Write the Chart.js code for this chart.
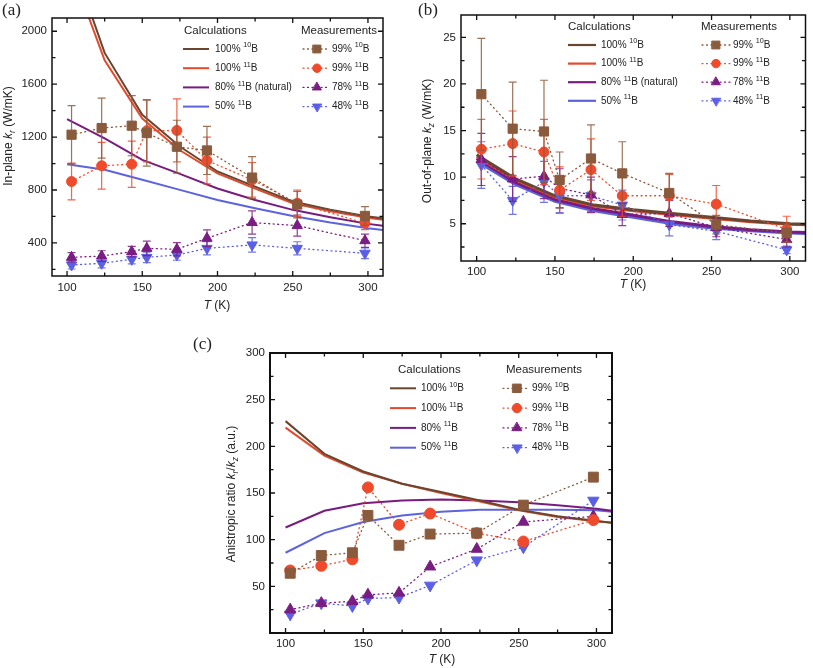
<!DOCTYPE html>
<html>
<head>
<meta charset="utf-8">
<script src="https://cdn.jsdelivr.net/npm/chart.js@4.4.1/dist/chart.umd.min.js"></script>
<style>
    html, body { margin: 0; padding: 0; background: #fff; }
    #wrap { position: relative; width: 813px; height: 668px; overflow: hidden; }
    canvas { position: absolute; }
</style>
</head>
<body>
<div id="wrap">
    <canvas id="cA" width="400" height="318" style="left:0;top:0"></canvas>
    <canvas id="cB" width="413" height="300" style="left:400px;top:0"></canvas>
    <canvas id="cC" width="430" height="338" style="left:190px;top:330px"></canvas>
</div>
<script>
// Temperatures
const measT = [103, 123, 143, 153, 173, 193, 223, 253, 298];
const calcT = [100, 125, 150, 175, 200, 225, 250, 275, 300, 310];
const xTicks = [100, 150, 200, 250, 300];

// (a) In-plane k_r
const aYTicks = [400, 800, 1200, 1600, 2000];
const aMeas99B10 = [1218, 1268, 1286, 1230, 1127, 1099, 894, 690, 604];
const aErr99B10 = [220, 227, 227, 250, 200, 182, 159, 100, 71];
const aMeas99B11 = [864, 983, 995, 1248, 1250, 1023, 877, 700, 550];
const aErr99B11 = [139, 177, 175, 235, 238, 177, 131, 100, 50];
const aMeas78 = [291, 301, 334, 359, 352, 435, 554, 531, 417];
const aErr78 = [35, 40, 40, 55, 50, 63, 88, 80, 50];
const aMeas48 = [233, 246, 276, 291, 309, 359, 385, 359, 322];
const aErr48 = [30, 35, 35, 40, 40, 50, 55, 50, 40];
const aCalc10B = [2650, 1836, 1369, 1129, 940, 826, 713, 650, 600, 587];
const aCalc11B = [2550, 1780, 1340, 1100, 925, 810, 700, 640, 590, 575];
const aCalc80 = [1336, 1190, 1028, 922, 811, 725, 650, 594, 544, 529];
const aCalc50 = [995, 953, 877, 801, 725, 662, 604, 554, 511, 498];

// (b) Out-of-plane k_z
const bYTicks = [5, 10, 15, 20, 25];
const bMeas99B10 = [18.9, 15.2, 14.9, 9.7, 12.0, 10.4, 8.3, 4.9, 4.0];
const bErr99B10 = [6.0, 5.0, 5.5, 3.0, 3.6, 3.4, 2.1, 1.0, 1.0];
const bMeas99B11 = [13.0, 13.6, 12.7, 8.6, 10.8, 8.0, 8.0, 7.1, 4.4];
const bErr99B11 = [3.2, 3.5, 3.5, 2.5, 3.3, 2.2, 2.3, 2.0, 1.4];
const bMeas78 = [11.9, 9.8, 10.1, 8.8, 8.1, 6.0, 6.1, 4.6, 3.3];
const bErr78 = [2.8, 2.4, 2.4, 2.1, 1.9, 1.2, 1.4, 1.0, 0.8];
const bMeas48 = [11.3, 7.5, 9.5, 8.0, 8.0, 7.0, 4.9, 4.2, 2.2];
const bErr48 = [2.5, 1.5, 2.2, 1.8, 1.7, 1.6, 1.2, 0.9, 0.4];
const bCalc10B = [12.4, 9.8, 8.0, 7.0, 6.5, 6.1, 5.7, 5.3, 5.0, 4.95];
const bCalc11B = [12.2, 9.7, 7.9, 6.9, 6.4, 6.0, 5.6, 5.2, 4.95, 4.9];
const bCalc80 = [12.0, 9.4, 7.6, 6.6, 5.9, 5.2, 4.7, 4.35, 4.1, 4.05];
const bCalc50 = [11.7, 9.2, 7.4, 6.4, 5.7, 5.0, 4.55, 4.25, 4.0, 3.95];

// (c) Anisotropic ratio
const cYTicks = [50, 100, 150, 200, 250, 300];
const cMeas99B10 = [64, 83, 86, 126, 94, 106, 107, 137, 167];
const cMeas99B11 = [67, 72, 79, 156, 116, 128, 107, 98, 121];
const cMeas78 = [25, 32, 34, 41, 43, 71, 90, 119, 125];
const cMeas48 = [20, 32, 29, 37, 38, 51, 78, 92, 142];
const cCalc10B = [227, 192, 173, 160, 151, 142, 132, 125, 120, 118];
const cCalc11B = [220, 190, 172, 160, 150, 141, 131.6, 124.4, 119.8, 118];
const cCalc80 = [113, 131, 139, 142, 143, 142, 140, 137, 133, 131];
const cCalc50 = [86, 107, 119, 126, 130, 132, 132, 132, 131.6, 130];

const FONT = '"Liberation Sans", Arial, sans-serif';
const COL = {
    brown: '#8a5a3c', brownLine: '#6a4630',
    red: '#ee4a2b', redLine: '#e4492b',
    purple: '#7a1d82', purpleLine: '#781c80',
    blue: '#5b5fe6', blueLine: '#5d63dd'
};

// Mini markup: ^{..} superscript, _{..} italic subscript, *..* italic
function parseRich(str) {
    const segs = [];
    const re = /\^\{([^}]*)\}|_\{([^}]*)\}|\*([^*]*)\*|([^^_*]+)/g;
    let m;
    while ((m = re.exec(str))) {
        if (m[1] != null) segs.push({ t: m[1], mode: 'sup' });
        else if (m[2] != null) segs.push({ t: m[2], mode: 'sub' });
        else if (m[3] != null) segs.push({ t: m[3], mode: 'it' });
        else segs.push({ t: m[4], mode: '' });
    }
    return segs;
}

function drawRich(ctx, str, x, y, size, align) {
    const segs = parseRich(str);
    const fontFor = s => {
        const small = s.mode === 'sup' || s.mode === 'sub';
        const it = s.mode === 'it' || s.mode === 'sub';
        return (it ? 'italic ' : '') + (small ? size * 0.72 : size) + 'px ' + FONT;
    };
    let w = 0;
    segs.forEach(s => { ctx.font = fontFor(s); s.w = ctx.measureText(s.t).width; w += s.w; });
    let cx = align === 'center' ? x - w / 2 : x;
    ctx.textAlign = 'left';
    ctx.textBaseline = 'middle';
    segs.forEach(s => {
        ctx.font = fontFor(s);
        const dy = s.mode === 'sup' ? -size * 0.35 : s.mode === 'sub' ? size * 0.3 : 0;
        ctx.fillText(s.t, cx, y + dy);
        cx += s.w;
    });
}

function tickList(majors, min, max) {
    const step = majors[1] - majors[0];
    const out = [];
    let v = majors[0] - step * Math.ceil((majors[0] - min) / step);
    for (; v <= max + 1e-9; v += step / 2) {
        if (v <= min + 1e-9 || v >= max - 1e-9) continue;
        const k = (v - majors[0]) / step;
        out.push({ v, major: Math.abs(k - Math.round(k)) < 1e-6 });
    }
    return out;
}

const panelPlugin = {
    id: 'panel',
    // error bars right before each measurement set
    beforeDatasetDraw(chart, args) {
        const ds = chart.data.datasets[args.index];
        if (!ds.errors) return;
        const ctx = chart.ctx, xs = chart.scales.x, ys = chart.scales.y, a = chart.chartArea;
        ctx.save();
        ctx.beginPath();
        ctx.rect(a.left, a.top, a.right - a.left, a.bottom - a.top);
        ctx.clip();
        ctx.strokeStyle = ds.borderColor;
        ctx.globalAlpha = 0.85;
        ctx.lineWidth = 1.2;
        ds.data.forEach((p, i) => {
            const e = ds.errors[i];
            if (!e) return;
            const px = xs.getPixelForValue(p.x);
            const y1 = ys.getPixelForValue(p.y + e), y2 = ys.getPixelForValue(p.y - e);
            ctx.beginPath();
            ctx.moveTo(px, y1); ctx.lineTo(px, y2);
            ctx.moveTo(px - 4, y1); ctx.lineTo(px + 4, y1);
            ctx.moveTo(px - 4, y2); ctx.lineTo(px + 4, y2);
            ctx.stroke();
        });
        ctx.restore();
    },
    afterDraw(chart, args, o) {
        const ctx = chart.ctx, a = chart.chartArea, xs = chart.scales.x, ys = chart.scales.y;
        ctx.save();
        // frame + inward ticks on all sides
        ctx.strokeStyle = '#111';
        ctx.lineWidth = o.frameWidth || 1.5;
        ctx.strokeRect(a.left, a.top, a.right - a.left, a.bottom - a.top);
        ctx.lineWidth = 1.3;
        ctx.beginPath();
        tickList(xTicks, xs.min, xs.max).forEach(t => {
            const px = xs.getPixelForValue(t.v), len = t.major ? 5 : 3.5;
            ctx.moveTo(px, a.bottom); ctx.lineTo(px, a.bottom - len);
            ctx.moveTo(px, a.top); ctx.lineTo(px, a.top + len);
        });
        tickList(o.yTicks, ys.min, ys.max).forEach(t => {
            const py = ys.getPixelForValue(t.v), len = t.major ? 5 : 3.5;
            ctx.moveTo(a.left, py); ctx.lineTo(a.left + len, py);
            ctx.moveTo(a.right, py); ctx.lineTo(a.right - len, py);
        });
        ctx.stroke();

        ctx.fillStyle = '#222';
        // axis titles
        drawRich(ctx, '*T* (K)', o.xTitle[0], o.xTitle[1], 12, 'center');
        ctx.save();
        ctx.translate(o.yTitle[0], o.yTitle[1]);
        ctx.rotate(-Math.PI / 2);
        drawRich(ctx, o.yTitleText, 0, 0, 12, 'center');
        ctx.restore();

        // panel tag
        ctx.font = '17px "Liberation Serif", "Times New Roman", serif';
        ctx.textAlign = 'left';
        ctx.textBaseline = 'middle';
        ctx.fillText(o.tag, o.tagPos[0], o.tagPos[1]);

        // two-column legend
        const L = o.legend;
        drawRich(ctx, 'Calculations', L.calcTitleX, L.titleY, 11.5, 'left');
        drawRich(ctx, 'Measurements', L.measTitleX, L.titleY, 11.5, 'left');
        const calc = chart.data.datasets.filter(d => d.kind === 'calc');
        const meas = chart.data.datasets.filter(d => d.kind === 'meas');
        calc.forEach((d, i) => {
            const y = L.y0 + i * L.dy;
            ctx.strokeStyle = d.borderColor;
            ctx.lineWidth = Math.min(d.borderWidth, 2.2);
            ctx.setLineDash([]);
            ctx.beginPath();
            ctx.moveTo(L.lineX, y); ctx.lineTo(L.lineX + L.lineW, y);
            ctx.stroke();
            ctx.fillStyle = '#222';
            drawRich(ctx, d.label, L.calcTextX, y, 10, 'left');
        });
        meas.forEach((d, i) => {
            const y = L.y0 + i * L.dy;
            ctx.strokeStyle = d.borderColor;
            ctx.lineWidth = 1.3;
            ctx.lineCap = 'round';
            ctx.setLineDash(d.borderDash);
            ctx.beginPath();
            ctx.moveTo(L.dotX, y); ctx.lineTo(L.dotX + L.dotW, y);
            ctx.stroke();
            ctx.setLineDash([]);
            ctx.fillStyle = d.pointBackgroundColor;
            ctx.strokeStyle = d.pointBorderColor;
            ctx.lineWidth = 1;
            Chart.helpers.drawPoint(ctx, {
                pointStyle: d.pointStyle, rotation: d.pointRotation,
                radius: d.pointRadius * 0.85, borderWidth: 1
            }, L.markX, y);
            ctx.fillStyle = '#222';
            drawRich(ctx, d.label, L.measTextX, y, 10, 'left');
        });
        ctx.restore();
    }
};

function measSet(label, vals, errs, color, style, radius, rot) {
    return {
        label: label, kind: 'meas', errors: errs,
        data: measT.map((t, i) => ({ x: t, y: vals[i] })),
        showLine: true,
        borderColor: color, backgroundColor: color,
        borderWidth: 1.3, borderDash: [1, 3.5], borderCapStyle: 'round',
        pointStyle: style, pointRadius: radius, pointRotation: rot || 0,
        pointBorderWidth: 1, pointBackgroundColor: color, pointBorderColor: color
    };
}

function calcSet(label, vals, color, width) {
    return {
        label: label, kind: 'calc',
        data: calcT.map((t, i) => ({ x: t, y: vals[i] })),
        showLine: true, borderColor: color, backgroundColor: color,
        borderWidth: width, pointRadius: 0, fill: false, tension: 0
    };
}

function makePanel(canvasId, cfg) {
    const cv = document.getElementById(canvasId);
    const W = cv.width, H = cv.height, A = cfg.area; // left, top, right, bottom
    const tickFont = { family: FONT, size: 11.5 };
    return new Chart(cv, {
        type: 'scatter',
        data: { datasets: cfg.datasets },
        options: {
            responsive: false,
            animation: false,
            devicePixelRatio: 1,
            layout: { padding: { left: 0, top: A[1], right: W - A[2], bottom: 0 } },
            plugins: {
                legend: { display: false },
                tooltip: { enabled: false },
                panel: cfg.panel
            },
            scales: {
                x: {
                    type: 'linear', min: 90, max: 310,
                    grid: { display: false, drawTicks: false },
                    border: { display: false },
                    ticks: { font: tickFont, color: '#222', padding: cfg.xPad, maxRotation: 0, callback: v => String(v) },
                    afterBuildTicks: s => { s.ticks = xTicks.map(v => ({ value: v })); },
                    afterFit: s => { s.height = H - A[3]; }
                },
                y: {
                    type: 'linear', min: cfg.yMin, max: cfg.yMax,
                    grid: { display: false, drawTicks: false },
                    border: { display: false },
                    ticks: { font: tickFont, color: '#222', padding: 5, callback: v => String(v) },
                    afterBuildTicks: s => { s.ticks = cfg.panel.yTicks.map(v => ({ value: v })); },
                    afterFit: s => { s.width = A[0]; }
                }
            }
        },
        plugins: [panelPlugin]
    });
}

// (a)
makePanel('cA', {
    area: [52, 18, 383, 276], yMin: 150, yMax: 2100, xPad: 5,
    datasets: [
        measSet('99% ^{10}B', aMeas99B10, aErr99B10, COL.brown, 'rect', 6.5),
        measSet('99% ^{11}B', aMeas99B11, aErr99B11, COL.red, 'circle', 5),
        measSet('78% ^{11}B', aMeas78, aErr78, COL.purple, 'triangle', 6),
        measSet('48% ^{11}B', aMeas48, aErr48, COL.blue, 'triangle', 6, 180),
        calcSet('100% ^{10}B', aCalc10B, COL.brownLine, 2),
        calcSet('100% ^{11}B', aCalc11B, COL.redLine, 2),
        calcSet('80% ^{11}B (natural)', aCalc80, COL.purpleLine, 2),
        calcSet('50% ^{11}B', aCalc50, COL.blueLine, 2)
    ],
    panel: {
        yTicks: aYTicks, tag: '(a)', tagPos: [2, 11],
        yTitleText: 'In-plane *k*_{r} (W/mK)', yTitle: [9, 136], xTitle: [217, 306],
        legend: { calcTitleX: 184, measTitleX: 301, titleY: 31, y0: 49, dy: 19.2,
                  lineX: 183, lineW: 26, calcTextX: 215, dotX: 303, dotW: 25, markX: 317, measTextX: 332 }
    }
});

// (b)
makePanel('cB', {
    area: [61, 15, 410, 261], yMin: 1, yMax: 27.4, xPad: 4,
    datasets: [
        measSet('99% ^{10}B', bMeas99B10, bErr99B10, COL.brown, 'rect', 6.5),
        measSet('99% ^{11}B', bMeas99B11, bErr99B11, COL.red, 'circle', 5),
        measSet('78% ^{11}B', bMeas78, bErr78, COL.purple, 'triangle', 6),
        measSet('48% ^{11}B', bMeas48, bErr48, COL.blue, 'triangle', 6, 180),
        calcSet('100% ^{10}B', bCalc10B, COL.brownLine, 3),
        calcSet('100% ^{11}B', bCalc11B, COL.redLine, 3),
        calcSet('80% ^{11}B (natural)', bCalc80, COL.purpleLine, 3),
        calcSet('50% ^{11}B', bCalc50, COL.blueLine, 3)
    ],
    panel: {
        yTicks: bYTicks, tag: '(b)', tagPos: [18, 11],
        yTitleText: 'Out-of-plane *k*_{z} (W/mK)', yTitle: [28, 141], xTitle: [233, 285],
        legend: { calcTitleX: 168, measTitleX: 301, titleY: 27, y0: 45, dy: 18.6,
                  lineX: 168, lineW: 28, calcTextX: 201, dotX: 302, dotW: 28, markX: 316, measTextX: 333 }
    }
});

// (c)
makePanel('cC', {
    area: [80, 23, 423, 303], yMin: 0, yMax: 300, xPad: 4,
    datasets: [
        measSet('99% ^{10}B', cMeas99B10, null, COL.brown, 'rect', 7),
        measSet('99% ^{11}B', cMeas99B11, null, COL.red, 'circle', 5.5),
        measSet('78% ^{11}B', cMeas78, null, COL.purple, 'triangle', 6.5),
        measSet('48% ^{11}B', cMeas48, null, COL.blue, 'triangle', 6.5, 180),
        calcSet('100% ^{10}B', cCalc10B, COL.brownLine, 2),
        calcSet('100% ^{11}B', cCalc11B, COL.redLine, 2),
        calcSet('80% ^{11}B', cCalc80, COL.purpleLine, 2),
        calcSet('50% ^{11}B', cCalc50, COL.blueLine, 2)
    ],
    panel: {
        yTicks: cYTicks, tag: '(c)', tagPos: [3, 15], frameWidth: 2,
        yTitleText: 'Anistropic ratio *k*_{r}/*k*_{z} (a.u.)', yTitle: [42, 164], xTitle: [252, 330],
        legend: { calcTitleX: 208, measTitleX: 316, titleY: 40, y0: 58.3, dy: 19.8,
                  lineX: 200, lineW: 26, calcTextX: 231, dotX: 313, dotW: 24, markX: 327, measTextX: 342 }
    }
});
</script>
</body>
</html>
